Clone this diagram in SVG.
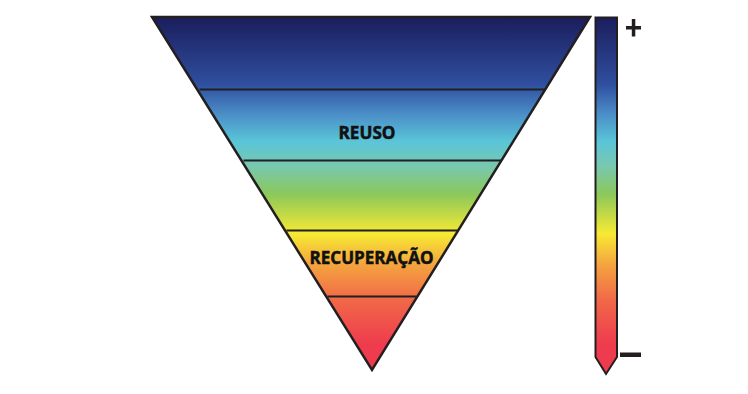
<svg xmlns="http://www.w3.org/2000/svg" width="748" height="394" viewBox="0 0 748 394">
<style>
.band{stroke:#231f20;stroke-width:2;fill:none}
.lbl{font-family:"Open Sans","Liberation Sans",sans-serif;font-weight:bold;font-size:17px;fill:#111;stroke:#111;stroke-width:0.5;text-anchor:middle}
.sign{fill:#231f20}
</style>
<defs>
<linearGradient id="g" gradientUnits="userSpaceOnUse" x1="0" y1="17" x2="0" y2="372">
<stop offset="0" stop-color="#1b1d5c"/>
<stop offset="0.19" stop-color="#2f4f9f"/>
<stop offset="0.27" stop-color="#4a8bc6"/>
<stop offset="0.35" stop-color="#5ac5d8"/>
<stop offset="0.42" stop-color="#78c8b0"/>
<stop offset="0.5" stop-color="#8cc85a"/>
<stop offset="0.61" stop-color="#f7ea33"/>
<stop offset="0.7" stop-color="#f4a23f"/>
<stop offset="0.8" stop-color="#f16748"/>
<stop offset="0.92" stop-color="#ee3c4e"/>
<stop offset="1" stop-color="#ee3a4c"/>
</linearGradient>
</defs>
<g id="pyramid">
<polygon points="152,17 590,17 372,370" fill="url(#g)" stroke="#231f20" stroke-width="2.5" stroke-linejoin="miter"/>
</g>
<g id="bands">
<line class="band" x1="199.5" y1="89.5" x2="545" y2="89.5"/>
<line class="band" x1="243.5" y1="160.5" x2="501" y2="160.5"/>
<line class="band" x1="286.5" y1="230.5" x2="457.5" y2="230.5"/>
<line class="band" x1="327.5" y1="296.5" x2="416.5" y2="296.5"/>
</g>
<g id="reuso">
<text class="lbl" x="367" y="139" textLength="57" lengthAdjust="spacingAndGlyphs">REUSO</text>
</g>
<g id="recuperacao">
<text class="lbl" x="371.5" y="264" textLength="124" lengthAdjust="spacingAndGlyphs">RECUPERAÇÃO</text>
</g>
<g id="scale">
<polygon points="595.5,17.5 617,17.5 617,357 606,374 595.5,357" fill="url(#g)" stroke="#231f20" stroke-width="2"/>
<rect class="sign" x="626" y="26" width="15" height="3.5"/>
<rect class="sign" x="631.8" y="19" width="3.5" height="17.5"/>
<rect class="sign" x="620" y="352.5" width="21" height="4.5"/>
</g>
</svg>
